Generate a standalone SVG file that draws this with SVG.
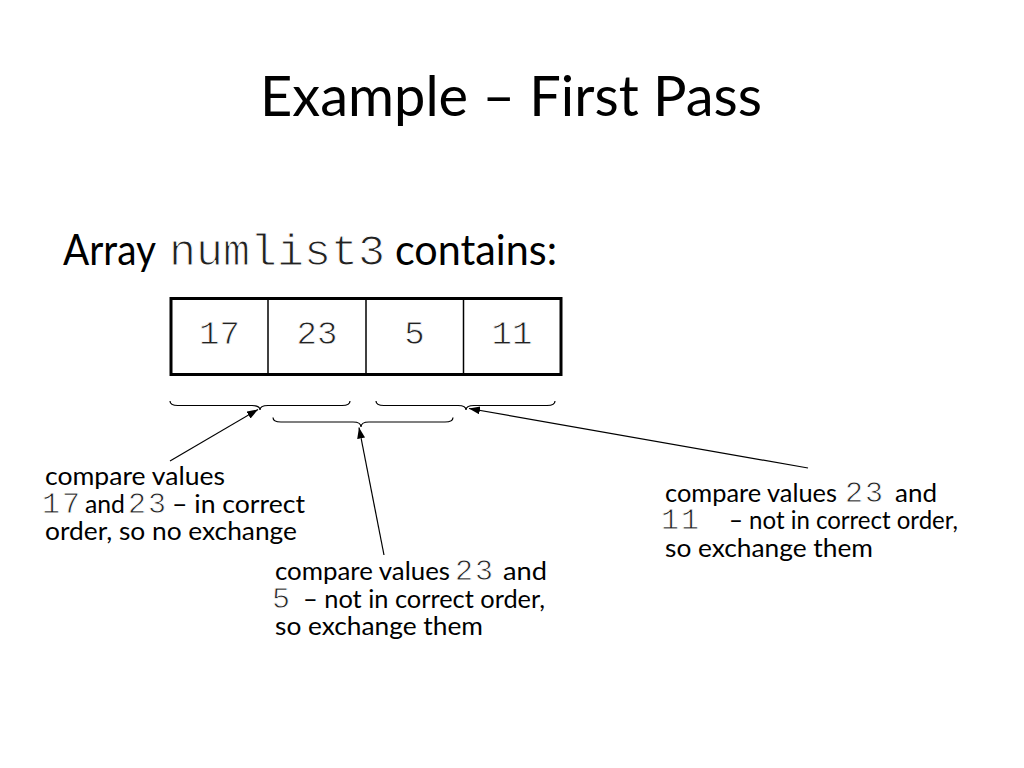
<svg xmlns="http://www.w3.org/2000/svg" width="1024" height="768" viewBox="0 0 1024 768">
<style>
.sans{font-family:Lato,"Open Sans","Liberation Sans",sans-serif;fill:#000}
.mono{font-family:"Liberation Mono","DejaVu Sans Mono",monospace;fill:#222;stroke:#fff;stroke-width:0.8}
.ann{font-size:25px}
.amono{font-size:30px;letter-spacing:2px}
.cell{fill:none;stroke:#000;stroke-width:1.5}
.brace{fill:none;stroke:#000;stroke-width:1.2}
.conn{stroke:#000;stroke-width:1.2;fill:none}
</style>
<defs>
<marker id="ah" markerWidth="12" markerHeight="10" refX="11" refY="4" orient="auto" markerUnits="userSpaceOnUse">
<path d="M0,0 L11,4 L0,8 Z" fill="#000"/>
</marker>
</defs>
<rect width="1024" height="768" fill="#fff"/>
<g id="title">
<text class="sans" x="260" y="116" font-size="57" textLength="502" lengthAdjust="spacingAndGlyphs">Example – First Pass</text>
</g>
<g id="subtitle">
<text class="sans" x="63" y="265" font-size="42" textLength="93" lengthAdjust="spacingAndGlyphs">Array</text>
<text class="mono" x="169" y="265" font-size="45" style="stroke-width:1.1">numlist3</text>
<text class="sans" x="395" y="265" font-size="42" textLength="162" lengthAdjust="spacingAndGlyphs">contains:</text>
</g>
<g id="array">
<rect x="171" y="298.5" width="390" height="76" fill="none" stroke="#000" stroke-width="3"/>
<line class="cell" x1="268" y1="298.5" x2="268" y2="374.5"/>
<line class="cell" x1="366" y1="298.5" x2="366" y2="374.5"/>
<line class="cell" x1="463.5" y1="298.5" x2="463.5" y2="374.5"/>
<g class="mono" font-size="34" text-anchor="middle">
<text x="219.5" y="344">17</text>
<text x="317" y="344">23</text>
<text x="414.5" y="344">5</text>
<text x="512" y="344">11</text>
</g>
</g>
<g id="braces">
<path id="brace1" class="brace" d="M170,401 Q170,405.5 178,405.5 L252,405.5 Q260,405.5 260,410 Q260,405.5 268,405.5 L342,405.5 Q350,405.5 350,401"/>
<path id="brace2" class="brace" d="M273,417.5 Q273,422 281,422 L353,422 Q361,422 361,427 Q361,422 369,422 L445,422 Q453,422 453,417.5"/>
<path id="brace3" class="brace" d="M376,401 Q376,405.5 384,405.5 L458,405.5 Q466,405.5 466,410 Q466,405.5 474,405.5 L547,405.5 Q555,405.5 555,401"/>
</g>
<g id="connectors">
<line class="conn" x1="170" y1="461" x2="258" y2="409.5" marker-end="url(#ah)"/>
<line class="conn" x1="384" y1="555" x2="359" y2="427.5" marker-end="url(#ah)"/>
<line class="conn" x1="808" y1="468" x2="469" y2="408.5" marker-end="url(#ah)"/>
</g>
<g id="note1">
<text class="sans ann" x="45" y="485" textLength="180" lengthAdjust="spacingAndGlyphs">compare values</text>
<text class="mono amono" x="42" y="513">17</text>
<text class="sans ann" x="85" y="513" textLength="40" lengthAdjust="spacingAndGlyphs">and</text>
<text class="mono amono" x="128" y="513">23</text>
<text class="sans ann" x="172" y="513" textLength="133" lengthAdjust="spacingAndGlyphs">– in correct</text>
<text class="sans ann" x="45" y="540" textLength="252" lengthAdjust="spacingAndGlyphs">order, so no exchange</text>
</g>
<g id="note2">
<text class="sans ann" x="275" y="580" textLength="175" lengthAdjust="spacingAndGlyphs">compare values</text>
<text class="mono amono" x="455" y="580">23</text>
<text class="sans ann" x="503" y="580" textLength="44" lengthAdjust="spacingAndGlyphs">and</text>
<text class="mono amono" x="272" y="608">5</text>
<text class="sans ann" x="303" y="608" textLength="242" lengthAdjust="spacingAndGlyphs">– not in correct order,</text>
<text class="sans ann" x="275" y="635" textLength="208" lengthAdjust="spacingAndGlyphs">so exchange them</text>
</g>
<g id="note3">
<text class="sans ann" x="665" y="502" textLength="172" lengthAdjust="spacingAndGlyphs">compare values</text>
<text class="mono amono" x="845" y="502">23</text>
<text class="sans ann" x="895" y="502" textLength="42" lengthAdjust="spacingAndGlyphs">and</text>
<text class="mono amono" x="661" y="529">11</text>
<text class="sans ann" x="729" y="529" textLength="229" lengthAdjust="spacingAndGlyphs">– not in correct order,</text>
<text class="sans ann" x="665" y="557" textLength="208" lengthAdjust="spacingAndGlyphs">so exchange them</text>
</g>
</svg>
